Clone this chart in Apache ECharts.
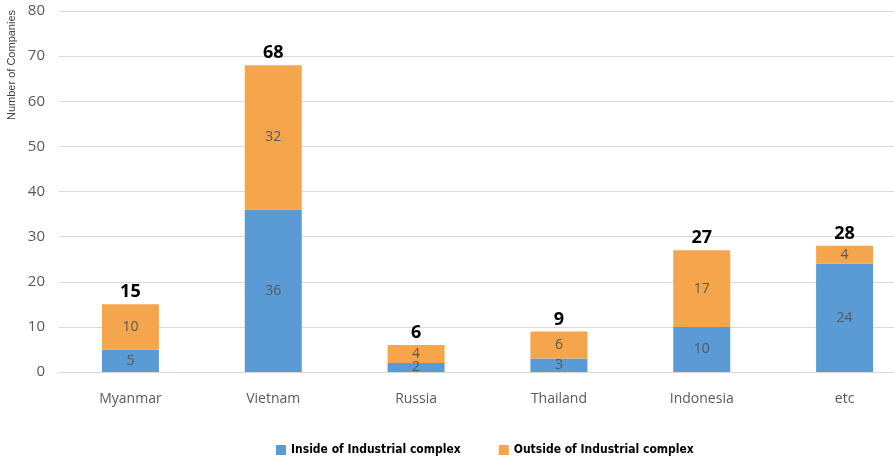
<!DOCTYPE html>
<html>
<head>
<meta charset="utf-8">
<script src="https://cdn.jsdelivr.net/npm/echarts@6/dist/echarts.min.js"></script>
<style>
  html, body { margin: 0; padding: 0; background: #fff; }
  #chart { width: 894px; height: 462px; }
</style>
</head>
<body>
<div id="chart"></div>
<script>
// data
const countries = ['Myanmar', 'Vietnam', 'Russia', 'Thailand', 'Indonesia', 'etc'];
const inside = [5, 36, 2, 3, 10, 24];
const outside = [10, 32, 4, 6, 17, 4];
const totals = [15, 68, 6, 9, 27, 28];
const yTicks = [0, 10, 20, 30, 40, 50, 60, 70, 80];

const chart = echarts.init(document.getElementById('chart'));

const innerLabel = {
    show: true,
    position: 'inside',
    color: '#595959',
    fontSize: 14,
    fontFamily: 'Open Sans'
};

chart.setOption({
    animation: false,
    // plot area runs past the right edge of the picture (it is cropped there)
    grid: { left: 59, width: 857, top: 11, height: 361, outerBoundsMode: 'none' },
    legend: {
        data: ['Inside of Industrial complex', 'Outside of Industrial complex'],
        top: 439,
        left: 271,
        itemWidth: 10,
        itemHeight: 10,
        itemGap: 38,
        icon: 'rect',
        textStyle: { fontSize: 12, fontWeight: 'bold', color: '#000', fontFamily: 'DejaVu Sans Condensed, Liberation Sans' }
    },
    graphic: [{
        type: 'text',
        x: 6,
        y: 120,
        rotation: Math.PI / 2,
        style: { text: 'Number of Companies', fontSize: 11, fill: '#404040', fontFamily: 'Liberation Sans' }
    }],
    xAxis: {
        type: 'category',
        data: countries,
        axisLine: { lineStyle: { color: '#d9d9d9' } },
        axisTick: { show: false },
        axisLabel: { color: '#595959', fontSize: 14, fontFamily: 'Open Sans', margin: 20 }
    },
    yAxis: {
        type: 'value',
        min: yTicks[0],
        max: yTicks[yTicks.length - 1],
        interval: 10,
        axisLine: { show: false },
        axisTick: { show: false },
        splitLine: { lineStyle: { color: '#d9d9d9' } },
        axisLabel: { color: '#595959', fontSize: 15, fontFamily: 'Open Sans', margin: 14 }
    },
    series: [
        {
            name: 'Inside of Industrial complex',
            type: 'bar',
            stack: 'all',
            barWidth: 57,
            data: inside,
            itemStyle: { color: '#5B9BD5' },
            label: innerLabel
        },
        {
            name: 'Outside of Industrial complex',
            type: 'bar',
            stack: 'all',
            data: outside,
            itemStyle: { color: '#F5A64D' },
            label: innerLabel
        },
        {
            // invisible zero-height bar on top, only carries the total label
            name: 'Total',
            type: 'bar',
            stack: 'all',
            data: totals.map(() => 0),
            itemStyle: { color: 'transparent' },
            label: {
                show: true,
                position: 'top',
                distance: 3,
                color: '#000',
                fontSize: 18,
                fontWeight: 'bold',
                fontFamily: 'Open Sans',
                formatter: p => totals[p.dataIndex]
            }
        }
    ]
});
</script>
</body>
</html>
